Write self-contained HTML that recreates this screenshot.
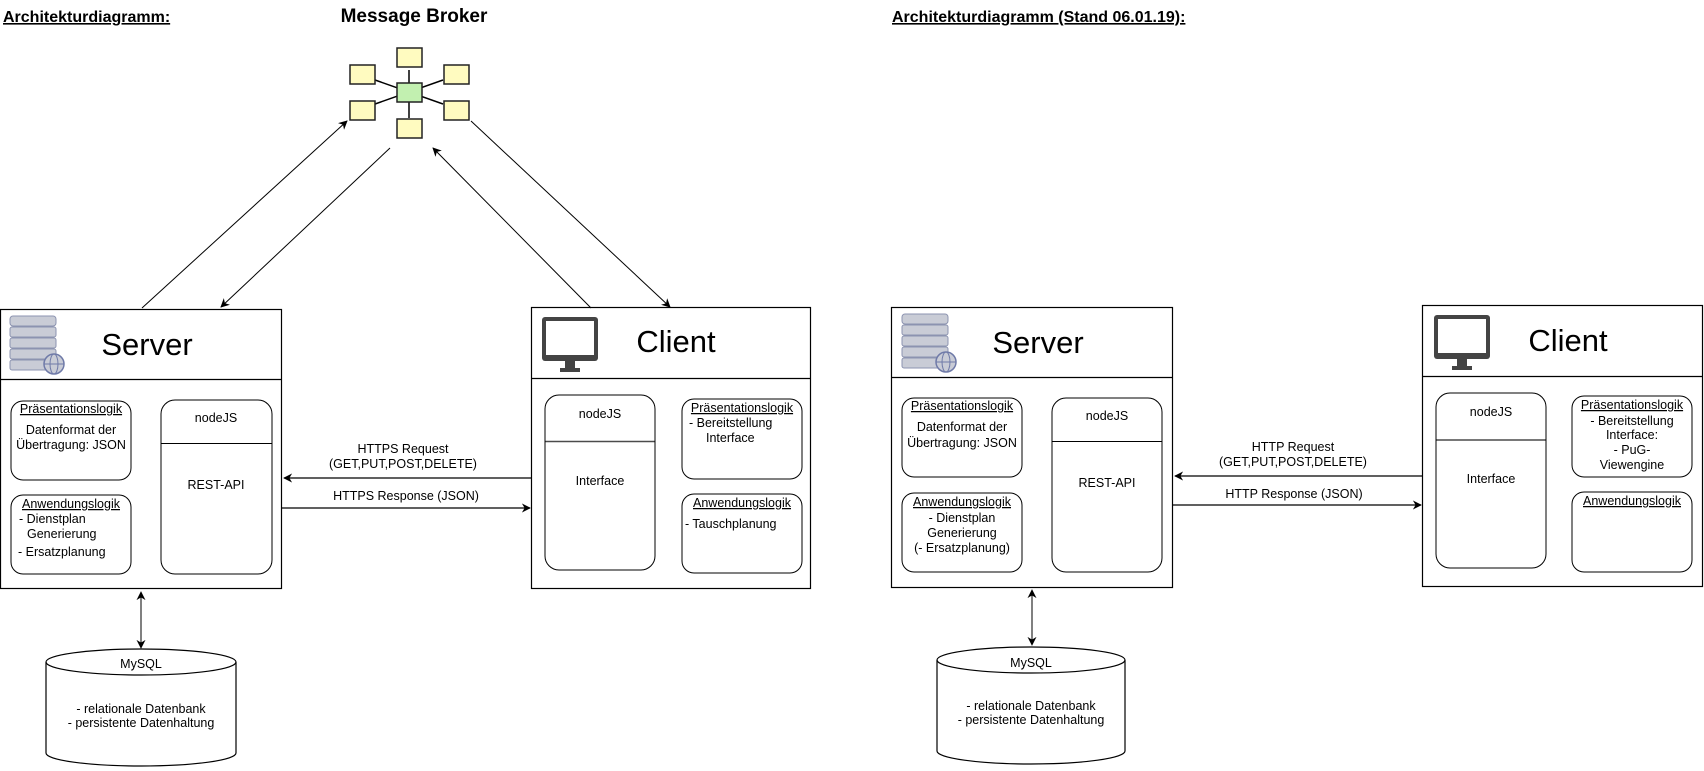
<!DOCTYPE html>
<html><head><meta charset="utf-8"><style>
html,body{margin:0;padding:0;background:#fff;width:1704px;height:771px;overflow:hidden}
svg{display:block}
text{font-family:"Liberation Sans",sans-serif;fill:#000}
.s{font-size:12.5px}
.u{text-decoration:underline}
</style></head><body>
<svg width="1704" height="771" viewBox="0 0 1704 771" xmlns="http://www.w3.org/2000/svg">
<defs>
<marker id="a" viewBox="0 0 10 10" refX="9" refY="5" markerWidth="9" markerHeight="9" orient="auto-start-reverse" markerUnits="userSpaceOnUse"><path d="M0,0 L10,5 L0,10 L3,5 z" fill="#000"/></marker>
<g id="srv">
<rect x="0" y="0" width="46" height="10" rx="3" fill="#c9ccd6" stroke="#8c93b0"/>
<rect x="0" y="11" width="46" height="10" rx="2" fill="#c9ccd6" stroke="#8c93b0"/>
<rect x="0" y="22" width="46" height="10" rx="2" fill="#c9ccd6" stroke="#8c93b0"/>
<rect x="0" y="33" width="46" height="10" rx="2" fill="#c9ccd6" stroke="#8c93b0"/>
<rect x="0" y="44" width="46" height="10" rx="2" fill="#c9ccd6" stroke="#8c93b0"/>
<circle cx="44" cy="48" r="10" fill="#c9ccd6" stroke="#6f7aa8" stroke-width="1.5"/>
<ellipse cx="44" cy="48" rx="4" ry="10" fill="none" stroke="#6f7aa8"/>
<line x1="34" y1="48" x2="54" y2="48" stroke="#6f7aa8"/>
</g>
<g id="mon">
<rect x="0" y="0" width="56" height="44" rx="3" fill="#444"/>
<rect x="4" y="4" width="48" height="34" fill="#fff"/>
<rect x="23" y="44" width="10" height="8" fill="#444"/>
<rect x="18" y="51" width="20" height="4" fill="#444"/>
</g>
</defs>

<!-- titles -->
<text x="3" y="22" font-size="16" font-weight="bold" class="u">Architekturdiagramm:</text>
<text x="414" y="22" font-size="19" font-weight="bold" text-anchor="middle">Message Broker</text>
<text x="892" y="22" font-size="16" font-weight="bold" class="u">Architekturdiagramm (Stand 06.01.19):</text>

<!-- broker -->
<g stroke="#000" stroke-width="1.5">
<line x1="409" y1="70" x2="409" y2="118"/>
<line x1="375" y1="80" x2="443" y2="104"/>
<line x1="375" y1="104" x2="443" y2="80"/>
</g>
<g stroke="#222" stroke-width="1.5" fill="#fffbc0">
<rect x="397" y="48" width="25" height="19"/>
<rect x="350" y="65" width="25" height="19"/>
<rect x="444" y="65" width="25" height="19"/>
<rect x="350" y="101" width="25" height="19"/>
<rect x="444" y="101" width="25" height="19"/>
<rect x="397" y="119" width="25" height="19"/>
<rect x="397" y="83" width="25" height="19" fill="#c2f0b0"/>
</g>
<g stroke="#000" stroke-width="1" fill="none">
<line x1="142" y1="308" x2="347" y2="121" marker-end="url(#a)"/>
<line x1="390" y1="148" x2="221" y2="307" marker-end="url(#a)"/>
<line x1="591" y1="308" x2="433" y2="148" marker-end="url(#a)"/>
<line x1="471" y1="121" x2="670" y2="307" marker-end="url(#a)"/>
</g>

<!-- LEFT SERVER -->
<rect x="0.5" y="309.5" width="281" height="279" fill="none" stroke="#000" stroke-width="1.2"/>
<line x1="0" y1="379.5" x2="282" y2="379.5" stroke="#000" stroke-width="1.2"/>
<use href="#srv" x="10" y="316"/>
<text x="147" y="355" font-size="31" text-anchor="middle">Server</text>
<rect x="11" y="401" width="120" height="79" rx="12" fill="none" stroke="#000"/>
<text x="71" y="413" class="s u" text-anchor="middle">Präsentationslogik</text>
<text x="71" y="434" class="s" text-anchor="middle">Datenformat der</text>
<text x="71" y="449" class="s" text-anchor="middle">Übertragung: JSON</text>
<rect x="11" y="495" width="120" height="79" rx="12" fill="none" stroke="#000"/>
<text x="71" y="508" class="s u" text-anchor="middle">Anwendungslogik</text>
<text x="19" y="523" class="s">- Dienstplan</text>
<text x="27" y="538" class="s">Generierung</text>
<text x="18" y="556" class="s">- Ersatzplanung</text>
<rect x="161" y="400" width="111" height="174" rx="14" fill="none" stroke="#000"/>
<line x1="161" y1="443.5" x2="272" y2="443.5" stroke="#000"/>
<text x="216" y="422" class="s" text-anchor="middle">nodeJS</text>
<text x="216" y="489" class="s" text-anchor="middle">REST-API</text>

<!-- LEFT CLIENT -->
<rect x="531.5" y="307.5" width="279" height="281" fill="none" stroke="#000" stroke-width="1.2"/>
<line x1="531" y1="378.5" x2="811" y2="378.5" stroke="#000" stroke-width="1.2"/>
<use href="#mon" x="542" y="317"/>
<text x="676" y="352" font-size="31" text-anchor="middle">Client</text>
<rect x="545" y="395" width="110" height="175" rx="14" fill="none" stroke="#000"/>
<line x1="545" y1="441.5" x2="655" y2="441.5" stroke="#000" stroke-width="1.5" opacity="0.7"/>
<text x="600" y="418" class="s" text-anchor="middle">nodeJS</text>
<text x="600" y="485" class="s" text-anchor="middle">Interface</text>
<rect x="682" y="399" width="120" height="80" rx="12" fill="none" stroke="#000"/>
<text x="742" y="412" class="s u" text-anchor="middle">Präsentationslogik</text>
<text x="689" y="427" class="s">- Bereitstellung</text>
<text x="706" y="442" class="s">Interface</text>
<rect x="682" y="494" width="120" height="79" rx="12" fill="none" stroke="#000"/>
<text x="742" y="507" class="s u" text-anchor="middle">Anwendungslogik</text>
<text x="685" y="528" class="s">- Tauschplanung</text>

<!-- left http arrows -->
<line x1="531" y1="478" x2="284" y2="478" stroke="#000" stroke-width="1.2" marker-end="url(#a)"/>
<line x1="282" y1="508" x2="530" y2="508" stroke="#000" stroke-width="1.2" marker-end="url(#a)"/>
<text x="403" y="453" class="s" text-anchor="middle">HTTPS Request</text>
<text x="403" y="468" class="s" text-anchor="middle">(GET,PUT,POST,DELETE)</text>
<text x="406" y="500" class="s" text-anchor="middle">HTTPS Response (JSON)</text>

<!-- left DB -->
<line x1="141" y1="592" x2="141" y2="648" stroke="#000" marker-start="url(#a)" marker-end="url(#a)"/>
<path d="M46,662 A95,13 0 0 1 236,662 L236,753 A95,13 0 0 1 46,753 Z" fill="#fff" stroke="#000" stroke-width="1.2"/>
<path d="M46,662 A95,13 0 0 0 236,662" fill="none" stroke="#000" stroke-width="1.2"/>
<text x="141" y="668" class="s" text-anchor="middle">MySQL</text>
<text x="141" y="713" class="s" text-anchor="middle">- relationale Datenbank</text>
<text x="141" y="727" class="s" text-anchor="middle">- persistente Datenhaltung</text>

<!-- RIGHT SERVER -->
<rect x="891.5" y="307.5" width="281" height="280" fill="none" stroke="#000" stroke-width="1.2"/>
<line x1="891" y1="377.5" x2="1173" y2="377.5" stroke="#000" stroke-width="1.2"/>
<use href="#srv" x="902" y="314"/>
<text x="1038" y="353" font-size="31" text-anchor="middle">Server</text>
<rect x="902" y="398" width="120" height="79" rx="12" fill="none" stroke="#000"/>
<text x="962" y="410" class="s u" text-anchor="middle">Präsentationslogik</text>
<text x="962" y="431" class="s" text-anchor="middle">Datenformat der</text>
<text x="962" y="447" class="s" text-anchor="middle">Übertragung: JSON</text>
<rect x="902" y="493" width="120" height="79" rx="12" fill="none" stroke="#000"/>
<text x="962" y="506" class="s u" text-anchor="middle">Anwendungslogik</text>
<text x="962" y="522" class="s" text-anchor="middle">- Dienstplan</text>
<text x="962" y="537" class="s" text-anchor="middle">Generierung</text>
<text x="962" y="552" class="s" text-anchor="middle">(- Ersatzplanung)</text>
<rect x="1052" y="398" width="110" height="174" rx="14" fill="none" stroke="#000"/>
<line x1="1052" y1="441.5" x2="1162" y2="441.5" stroke="#000"/>
<text x="1107" y="420" class="s" text-anchor="middle">nodeJS</text>
<text x="1107" y="487" class="s" text-anchor="middle">REST-API</text>

<!-- RIGHT CLIENT -->
<rect x="1422.5" y="305.5" width="280" height="281" fill="none" stroke="#000" stroke-width="1.2"/>
<line x1="1422" y1="376.5" x2="1703" y2="376.5" stroke="#000" stroke-width="1.2"/>
<use href="#mon" x="1434" y="315"/>
<text x="1568" y="351" font-size="31" text-anchor="middle">Client</text>
<rect x="1436" y="393" width="110" height="175" rx="14" fill="none" stroke="#000"/>
<line x1="1436" y1="440" x2="1546" y2="440" stroke="#000" stroke-width="1.5" opacity="0.7"/>
<text x="1491" y="416" class="s" text-anchor="middle">nodeJS</text>
<text x="1491" y="483" class="s" text-anchor="middle">Interface</text>
<rect x="1572" y="396" width="120" height="81" rx="12" fill="none" stroke="#000"/>
<text x="1632" y="409" class="s u" text-anchor="middle">Präsentationslogik</text>
<text x="1632" y="425" class="s" text-anchor="middle">- Bereitstellung</text>
<text x="1632" y="439" class="s" text-anchor="middle">Interface:</text>
<text x="1632" y="454" class="s" text-anchor="middle">- PuG-</text>
<text x="1632" y="469" class="s" text-anchor="middle">Viewengine</text>
<rect x="1572" y="492" width="120" height="80" rx="12" fill="none" stroke="#000"/>
<text x="1632" y="505" class="s u" text-anchor="middle">Anwendungslogik</text>

<!-- right http arrows -->
<line x1="1422" y1="476" x2="1175" y2="476" stroke="#000" stroke-width="1.2" marker-end="url(#a)"/>
<line x1="1173" y1="505" x2="1421" y2="505" stroke="#000" stroke-width="1.2" marker-end="url(#a)"/>
<text x="1293" y="451" class="s" text-anchor="middle">HTTP Request</text>
<text x="1293" y="466" class="s" text-anchor="middle">(GET,PUT,POST,DELETE)</text>
<text x="1294" y="498" class="s" text-anchor="middle">HTTP Response (JSON)</text>

<!-- right DB -->
<line x1="1032" y1="590" x2="1032" y2="645" stroke="#000" marker-start="url(#a)" marker-end="url(#a)"/>
<path d="M937,660 A94,13 0 0 1 1125,660 L1125,751 A94,13 0 0 1 937,751 Z" fill="#fff" stroke="#000" stroke-width="1.2"/>
<path d="M937,660 A94,13 0 0 0 1125,660" fill="none" stroke="#000" stroke-width="1.2"/>
<text x="1031" y="667" class="s" text-anchor="middle">MySQL</text>
<text x="1031" y="710" class="s" text-anchor="middle">- relationale Datenbank</text>
<text x="1031" y="724" class="s" text-anchor="middle">- persistente Datenhaltung</text>
</svg>
</body></html>
